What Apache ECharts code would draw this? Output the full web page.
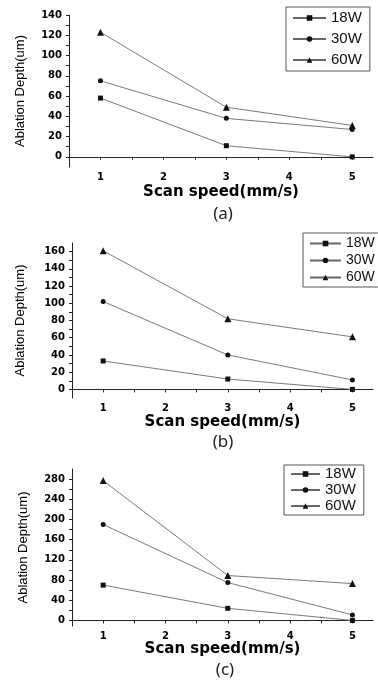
<!DOCTYPE html>
<html>
<head>
<meta charset="utf-8">
<script src="https://cdn.jsdelivr.net/npm/echarts@6/dist/echarts.min.js"></script>
<style>
  html, body { margin: 0; padding: 0; background: #fff; }
  #chart { width: 378px; height: 686px; }
</style>
</head>
<body>
<div id="chart"></div>
<script>
// x values (scan speed, mm/s)
const speeds = [1, 3, 5]
const seriesNames = ['18W', '30W', '60W']
const symbols = ['rect', 'circle', 'triangle']

// ablation depth (um) per panel, per power
const depthA = [[58, 11, 0], [75, 38, 27], [123, 49, 31]]
const depthB = [[33, 12, 0], [102, 40, 11], [161, 82, 61]]
const depthC = [[70, 24, 0], [190, 75, 11], [277, 89, 73]]

// tick labels
const xLabels = [1, 2, 3, 4, 5]
const xTicks = [1, 1.5, 2, 2.5, 3, 3.5, 4, 4.5, 5]
const yLabelsA = [0, 20, 40, 60, 80, 100, 120, 140]
const yTicksA = [0, 10, 20, 30, 40, 50, 60, 70, 80, 90, 100, 110, 120, 130, 140]
const yLabelsB = [0, 20, 40, 60, 80, 100, 120, 140, 160]
const yTicksB = [0, 10, 20, 30, 40, 50, 60, 70, 80, 90, 100, 110, 120, 130, 140, 150, 160]
const yLabelsC = [0, 40, 80, 120, 160, 200, 240, 280]
const yTicksC = [0, 20, 40, 60, 80, 100, 120, 140, 160, 180, 200, 220, 240, 260, 280]
const captions = ['(a)', '(b)', '(c)']

const axisColor = '#222'
const tickFont = { color: '#000', fontFamily: 'DejaVu Sans', fontWeight: 'bold', fontSize: 10 }

function xAxisFor(i, gap) {
  return {
    type: 'value', gridIndex: i, min: 0.5, max: 5.33,
    name: 'Scan speed(mm/s)', nameLocation: 'middle', nameGap: gap,
    nameTextStyle: { color: '#000', fontFamily: 'DejaVu Sans', fontWeight: 'bold', fontSize: 15 },
    axisLine: { lineStyle: { color: axisColor, width: 1 } },
    axisTick: { customValues: xTicks, inside: false, length: 3, lineStyle: { color: axisColor } },
    axisLabel: { customValues: xLabels, margin: 5, ...tickFont },
    splitLine: { show: false }
  }
}

function yAxisFor(i, min, max, labels, ticks, gap) {
  return {
    type: 'value', gridIndex: i, min: min, max: max,
    name: 'Ablation Depth(um)', nameLocation: 'middle', nameGap: gap,
    nameTextStyle: { color: '#000', fontFamily: 'Liberation Sans', fontSize: 13 },
    axisLine: { show: true, lineStyle: { color: axisColor, width: 1 } },
    axisTick: { customValues: ticks, inside: false, length: 3, lineStyle: { color: axisColor } },
    axisLabel: { customValues: labels, margin: 7, ...tickFont },
    splitLine: { show: false }
  }
}

function seriesFor(i, data) {
  return data.map((vals, k) => ({
    name: seriesNames[k], type: 'line', xAxisIndex: i, yAxisIndex: i,
    data: speeds.map((s, j) => [s, vals[j]]),
    symbol: symbols[k], symbolSize: k === 2 ? 7 : 5,
    lineStyle: { color: '#7a7a7a', width: 1 },
    itemStyle: { color: '#111' },
    emphasis: { disabled: true }
  }))
}

function legendFor(left, top, fontSize, gap, iconW, padding) {
  return {
    data: seriesNames, orient: 'vertical', left: left, top: top,
    itemWidth: iconW, itemHeight: 7, itemGap: gap, padding: padding,
    borderColor: '#555', borderWidth: 1, backgroundColor: '#fff',
    selectedMode: false,
    textStyle: { color: '#111', fontFamily: 'Liberation Sans', fontSize: fontSize, lineHeight: fontSize + 1 },
    lineStyle: { color: '#666' }
  }
}

const chart = echarts.init(document.getElementById('chart'))
chart.setOption({
  backgroundColor: '#fff',
  animation: false,
  title: captions.map((c, i) => ({
    text: c, left: [218, 218, 220][i], top: [201, 429, 657][i], textAlign: 'center',
    textStyle: { color: '#222', fontFamily: 'Noto Sans', fontWeight: 'normal', fontSize: 17 }
  })),
  legend: [
    legendFor(286, 7, 15, 5, 33, [3, 8, 3, 6]),
    legendFor(303, 233, 14, 2, 31, [3, 12, 2, 6]),
    legendFor(284, 465, 15, 0, 29, [1, 8, 1, 6])
  ],
  grid: [
    { left: 69, right: 5, top: 15, height: 152 },
    { left: 72, right: 5, top: 243, height: 155 },
    { left: 72, right: 5, top: 469, height: 157 }
  ],
  xAxis: [xAxisFor(0, 18), xAxisFor(1, 17), xAxisFor(2, 16)],
  yAxis: [
    yAxisFor(0, -10, 140, yLabelsA, yTicksA, 42),
    yAxisFor(1, -10, 170, yLabelsB, yTicksB, 45),
    yAxisFor(2, -11, 300, yLabelsC, yTicksC, 42)
  ],
  series: [...seriesFor(0, depthA), ...seriesFor(1, depthB), ...seriesFor(2, depthC)]
})
</script>
</body>
</html>
